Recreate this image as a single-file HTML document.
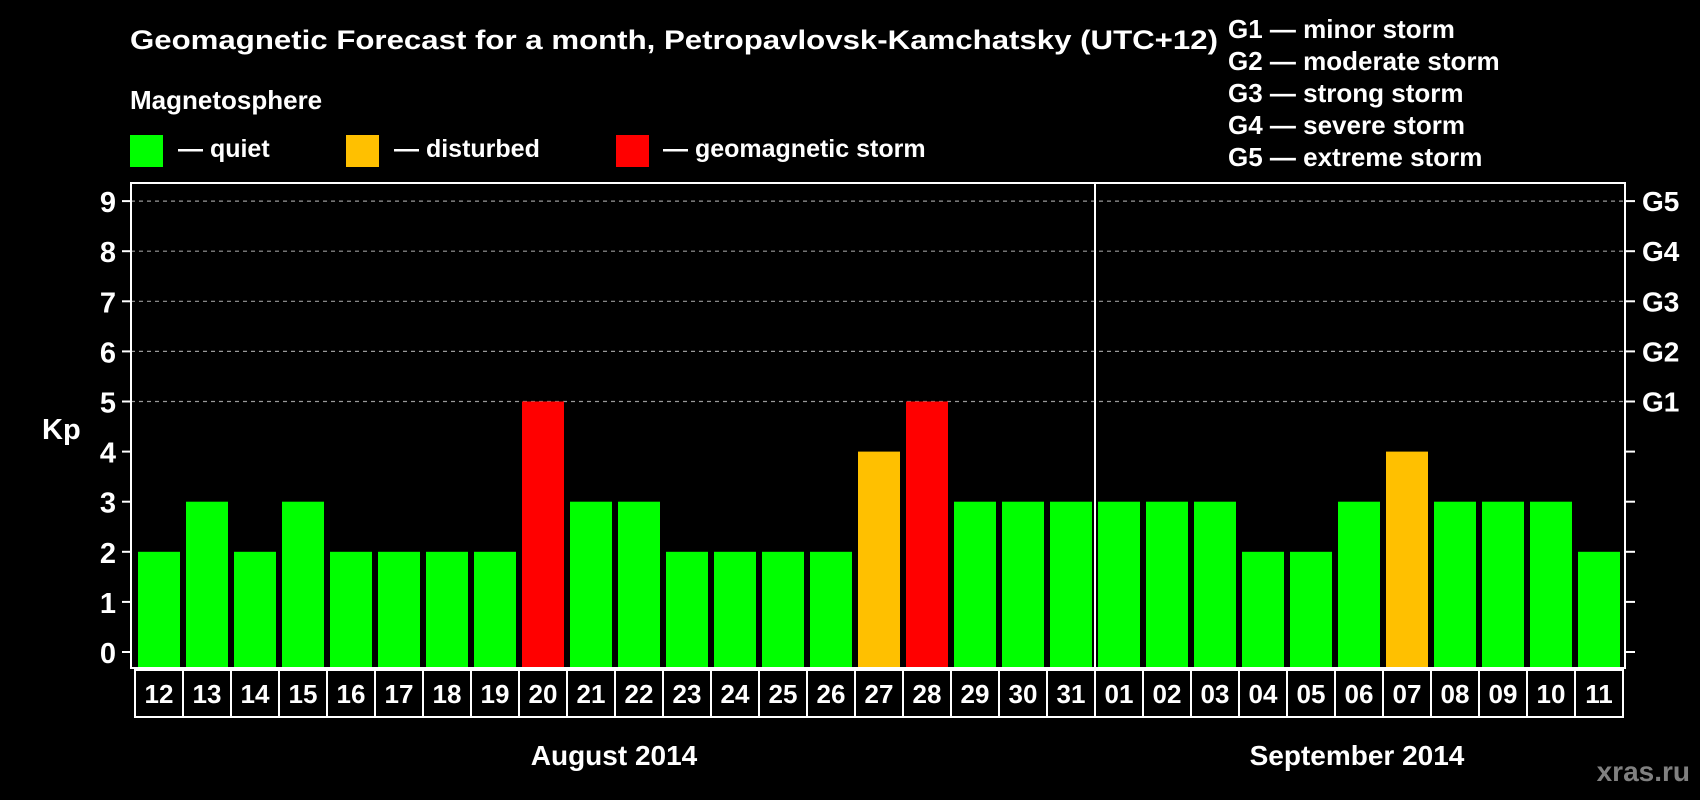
<!DOCTYPE html>
<html><head><meta charset="utf-8"><style>
html,body{margin:0;padding:0;background:#000;}
svg{display:block;font-family:"Liberation Sans",Arial,sans-serif;font-weight:bold;}
</style></head><body>
<svg id="chart" width="1700" height="800" viewBox="0 0 1700 800" xmlns="http://www.w3.org/2000/svg">
<rect width="1700" height="800" fill="#000"/>
<text x="130" y="49" fill="#fff" font-size="27" textLength="1088" lengthAdjust="spacingAndGlyphs">Geomagnetic Forecast for a month, Petropavlovsk-Kamchatsky (UTC+12)</text>
<text x="130" y="109" fill="#fff" font-size="26">Magnetosphere</text>
<g>
<rect x="130" y="135" width="33" height="32" fill="#00ff00"/>
<text x="178" y="157" fill="#fff" font-size="25">— quiet</text></g>
<g>
<rect x="346" y="135" width="33" height="32" fill="#ffc000"/>
<text x="394" y="157" fill="#fff" font-size="25">— disturbed</text></g>
<g>
<rect x="616" y="135" width="33" height="32" fill="#ff0000"/>
<text x="663" y="157" fill="#fff" font-size="25">— geomagnetic storm</text></g>
<g fill="#fff" font-size="26">
<text x="1228" y="38">G1 — minor storm</text>
<text x="1228" y="70">G2 — moderate storm</text>
<text x="1228" y="102">G3 — strong storm</text>
<text x="1228" y="134">G4 — severe storm</text>
<text x="1228" y="166">G5 — extreme storm</text>
</g>
<text x="42" y="439" fill="#fff" font-size="29">Kp</text>
<g id="grid"></g>
<g id="bars"></g>
<g id="axes"></g>
<text x="614" y="765" fill="#fff" font-size="28" text-anchor="middle">August 2014</text>
<text x="1357" y="765" fill="#fff" font-size="28" text-anchor="middle">September 2014</text>
<text x="1690" y="781" fill="#808080" font-size="28" text-anchor="end">xras.ru</text>
</svg>
<script>
const days = ["12","13","14","15","16","17","18","19","20","21","22","23","24","25","26","27","28","29","30","31","01","02","03","04","05","06","07","08","09","10","11"];
const kpValues = [2,3,2,3,2,2,2,2,5,3,3,2,2,2,2,4,5,3,3,3,3,3,3,2,2,3,4,3,3,3,2];
const yTicks = [0,1,2,3,4,5,6,7,8,9];
const gLabels = ["G1","G2","G3","G4","G5"];
const gLevels = [5,6,7,8,9];
const monthSplitIndex = 20;

const NS="http://www.w3.org/2000/svg";
const plotL=131, plotR=1625, plotT=183, plotB=668;
const dayX0=135, dayW=48;
function y(v){return 652-v*50.1;}
function x(i){return dayX0+i*dayW;}
function mk(tag,attrs,parent){const e=document.createElementNS(NS,tag);for(const k in attrs)e.setAttribute(k,attrs[k]);parent.appendChild(e);return e;}
const grid=document.getElementById('grid'),bars=document.getElementById('bars'),axes=document.getElementById('axes');

gLevels.forEach((v,i)=>{
  const l=mk('line',{x1:plotL,x2:plotR,y1:y(v),y2:y(v),stroke:'#999','stroke-width':1.2,'stroke-dasharray':'4,4'},grid);
  
  
  const t=mk('text',{x:1642,y:y(v)+10,fill:'#fff','font-size':28},axes);
  t.textContent=gLabels[i];
  
  
});
kpValues.forEach((v,i)=>{
  const c=v>=5?'#ff0000':(v>=4?'#ffc000':'#00ff00');
  const r=mk('rect',{x:x(i)+3,y:y(v),width:42,height:plotB-y(v),fill:c},bars);
  
  
});
const frame=mk('rect',{x:plotL,y:plotT,width:plotR-plotL,height:plotB-plotT,fill:'none',stroke:'#fff','stroke-width':2},axes);


const div=mk('line',{x1:x(monthSplitIndex),x2:x(monthSplitIndex),y1:plotT,y2:plotB,stroke:'#fff','stroke-width':2},axes);


yTicks.forEach(v=>{
  mk('line',{x1:122,x2:plotL,y1:y(v),y2:y(v),stroke:'#fff','stroke-width':2},axes);
  mk('line',{x1:plotR,x2:1635,y1:y(v),y2:y(v),stroke:'#fff','stroke-width':2},axes);
  const t=mk('text',{x:116,y:y(v)+11,fill:'#fff','font-size':29,'text-anchor':'end'},axes);
  t.textContent=v;
  
  
});
days.forEach((d,i)=>{
  const b=mk('rect',{x:x(i),y:670,width:dayW,height:47,fill:'none',stroke:'#fff','stroke-width':2},axes);
  
  
  const t=mk('text',{x:x(i)+dayW/2,y:703,fill:'#fff','font-size':26,'text-anchor':'middle'},axes);
  t.textContent=d;
  
  
});
</script>
</body></html>
